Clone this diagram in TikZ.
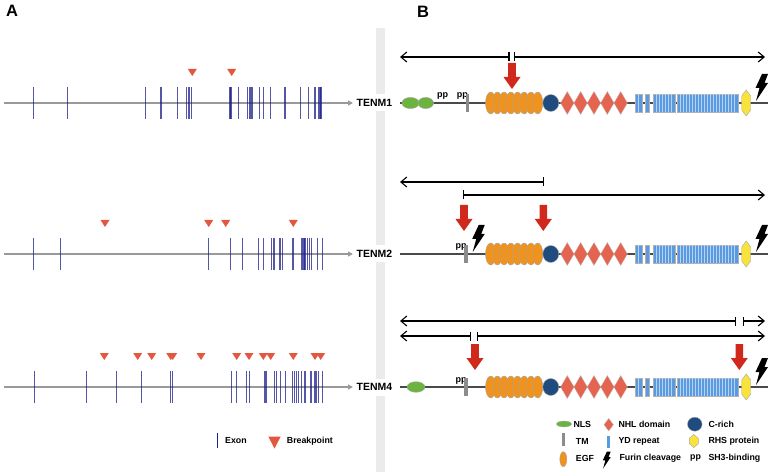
\documentclass[tikz,border=0pt]{standalone}
\usepackage{fontspec}
\setmainfont{Liberation Sans}
\usetikzlibrary{arrows.meta}
\definecolor{exon}{HTML}{1E1E8C}
\definecolor{brk}{HTML}{E4573F}
\definecolor{nls}{HTML}{6DB33F}
\definecolor{egf}{HTML}{F0921E}
\definecolor{crich}{HTML}{1F4B7F}
\definecolor{nhl}{HTML}{E46450}
\definecolor{yd}{HTML}{5A9AE0}
\definecolor{ydstripe}{HTML}{B8D4F4}
\definecolor{rhs}{HTML}{F7E33C}
\definecolor{redarrow}{HTML}{D0281A}
\definecolor{bb}{HTML}{4A4A4A}
\definecolor{sep}{HTML}{EBEBEB}
\begin{document}
\begin{tikzpicture}[x=1pt,y=-1pt,
  genearrow/.style={draw=black!40, line width=1.9pt, -{Triangle[length=5pt,width=5pt]}, shorten >=2pt},
  exonline/.style={draw=exon, line width=1.2pt, opacity=0.75},
  tenm/.style={font=\fontsize{10.5}{12}\selectfont\bfseries, fill=white, inner xsep=1.5pt, inner ysep=0pt, minimum height=17pt, anchor=west},
  lab/.style={font=\fontsize{8.8}{10}\selectfont\bfseries, inner sep=0pt, anchor=west},
  pplab/.style={font=\fontsize{9}{10}\selectfont\bfseries, inner sep=0pt, anchor=base west},
  panel/.style={font=\fontsize{16.5}{18}\selectfont\bfseries, inner sep=0pt},
  backbone/.style={draw=bb, line width=1.5pt},
  spanline/.style={draw=black, line width=1.1pt},
  bolt/.pic={\fill[black] (7,0) -- (13,0) -- (9.5,9) -- (13,9) -- (1,27) -- (4.5,14) -- (0.5,14) -- cycle;},
  tmbar/.style={fill=black!45},
  core/.pic={
    \foreach \i in {0,...,7}
      \filldraw[fill=egf, draw=black!35, line width=0.4pt] ({490.7+6.71*\i},0) ellipse [x radius=5.2, y radius=11];
    \filldraw[fill=crich, draw=black!35, line width=0.4pt] (550.8,0) ellipse [x radius=8, y radius=8.5];
    \foreach \i in {0,...,4}
      \filldraw[fill=nhl, draw=black!25, line width=0.3pt] ({567.3+13.35*\i-6.7},0) -- ({567.3+13.35*\i},-11.5) -- ({567.3+13.35*\i+6.7},0) -- ({567.3+13.35*\i},11.5) -- cycle;
    \foreach \a/\b in {635/641.7, 645/649.3, 653.3/675, 677.3/738.3}
      \filldraw[fill=yd, draw=black!30, line width=0.3pt] (\a,-9) rectangle (\b,9);
    \foreach \x in {638.4, 656.3, 659.3, 662.3, 665.3, 668.3, 671.3, 680.3, 683.3, 686.3, 689.3, 692.3, 695.3, 698.3, 701.3, 704.3, 707.3, 710.3, 713.3, 716.3, 719.3, 722.3, 725.3, 728.3, 731.3, 734.3}
      \draw[ydstripe, line width=0.5pt] (\x,-8.6) -- (\x,8.6);
    \filldraw[fill=rhs, draw=black!35, line width=0.4pt] (746.2,-13) -- (750.7,-7) -- (750.7,7) -- (746.2,13) -- (741.7,7) -- (741.7,-7) -- cycle;
    \pic at (755,-29) {bolt};
  }]
\useasboundingbox (0,0) rectangle (772,476);

% separator band
\fill[sep] (376,28) rectangle (385,472);

% panel letters
\node[panel] (pA) at (12,10.5) {A};
\node[panel] (pB) at (423,11.5) {B};

% ---------- Panel A ----------
\newcommand\exonrow[2]{\foreach \x in {#2} {\draw[exonline] (\x,#1-16) -- (\x,#1+16);}}
\newcommand\brkrow[2]{\foreach \x in {#2} {\fill[brk] (\x-4.5,#1-34) -- (\x+4.5,#1-34) -- (\x,#1-27) -- cycle;}}

% row 1
\node[tenm] (t1) at (355,103) {TENM1};
\coordinate (g1) at (4,103);
\draw[genearrow] (g1) -- (t1.west);
\exonrow{103}{33.7, 67.7, 145.3, 161, 177.3, 186.7, 189, 191.7, 230, 231, 238.7, 247.3, 250, 252, 259.7, 263.3, 270.7, 285, 300.7, 308.3, 315, 318.7, 320, 321}
\brkrow{103}{192.3, 231.7}

% row 2
\node[tenm] (t2) at (355,254) {TENM2};
\coordinate (g2) at (4,254);
\draw[genearrow] (g2) -- (t2.west);
\exonrow{254}{33.7, 60.3, 208.7, 230.7, 242.7, 258.7, 263.3, 271.7, 274, 280, 282.7, 293, 301.7, 302.8, 304, 305, 307.3, 309.3, 311.7, 317.7, 322.7}
\brkrow{254}{105, 208.7, 225.7, 293.3}

% row 3
\node[tenm] (t3) at (355,387) {TENM4};
\coordinate (g3) at (4,387);
\draw[genearrow] (g3) -- (t3.west);
\exonrow{387}{34.3, 86.7, 116.7, 141.7, 170.3, 172.3, 231.7, 236.7, 246.7, 249.3, 265, 266.7, 274.3, 276.7, 280.3, 285.7, 292.3, 294.3, 296.5, 298.7, 301.7, 305, 311, 315, 316.7, 318.3, 322.3}
\brkrow{387}{104.3, 137.7, 151.7, 170.7, 172.7, 201, 236.7, 249, 263.3, 270.7, 293.3, 315, 320.7}

% legend A
\draw[draw=exon, line width=1.4pt] (217.7,432.7) -- (217.7,448.3);
\node[lab] (lexon) at (225,441) {Exon};
\fill[brk] (268.3,436.5) -- (280.7,436.5) -- (274.5,448.5) -- cycle;
\node[lab] (lbrk) at (286.7,441) {Breakpoint};

% ---------- Panel B ----------
\newcommand\redarrowat[2]{\fill[redarrow] (#1-3.8,#2) -- (#1+3.8,#2) -- (#1+3.8,#2+14) -- (#1+8.5,#2+14) -- (#1,#2+26) -- (#1-8.5,#2+14) -- (#1-3.8,#2+14) -- cycle;}

% row 1
\coordinate (b1s) at (400,103);
\coordinate (b1e) at (768,103);
\draw[backbone] (b1s) -- (b1e);
\filldraw[fill=nls, draw=black!35, line width=0.4pt] (410.5,103) ellipse [x radius=8.6, y radius=5.6];
\filldraw[fill=nls, draw=black!35, line width=0.4pt] (425.8,103) ellipse [x radius=7.8, y radius=5.6];
\node[pplab] (pp1a) at (437,98) {pp};
\node[pplab] (pp1b) at (456.7,98) {pp};
\fill[tmbar] (465.6,94) rectangle (468.8,112);
\pic at (0,103) {core};
\coordinate (s1a) at (400,57);
\coordinate (s1b) at (509.5,57);
\coordinate (s1c) at (514,57);
\coordinate (s1d) at (765,57);
\draw[spanline, {Straight Barb[length=6pt,width=10pt]}-{Bar[width=9pt]}] (s1a) -- (s1b);
\draw[spanline, {Bar[width=9pt]}-{Straight Barb[length=6pt,width=10pt]}] (s1c) -- (s1d);
\redarrowat{512}{63}

% row 2
\coordinate (b2s) at (400,254);
\coordinate (b2e) at (768,254);
\draw[backbone] (b2s) -- (b2e);
\node[pplab] (pp2) at (455.5,249) {pp};
\fill[tmbar] (464.4,245) rectangle (467.6,263);
\pic at (471.7,225) {bolt};
\pic at (0,254) {core};
\coordinate (s2a) at (400,182);
\coordinate (s2b) at (544,182);
\coordinate (s2c) at (463.3,195);
\coordinate (s2d) at (765,195);
\draw[spanline, {Straight Barb[length=6pt,width=10pt]}-{Bar[width=9pt]}] (s2a) -- (s2b);
\draw[spanline, {Bar[width=9pt]}-{Straight Barb[length=6pt,width=10pt]}] (s2c) -- (s2d);
\redarrowat{464}{205}
\redarrowat{543.3}{205}

% row 3
\coordinate (b3s) at (400,387);
\coordinate (b3e) at (768,387);
\draw[backbone] (b3s) -- (b3e);
\filldraw[fill=nls, draw=black!35, line width=0.4pt] (416,387) ellipse [x radius=9, y radius=5.3];
\node[pplab] (pp3) at (455.5,382) {pp};
\fill[tmbar] (464.4,378) rectangle (467.6,396);
\pic at (0,387) {core};
\coordinate (s3a) at (400,321);
\coordinate (s3b) at (736,321);
\coordinate (s3c) at (743.3,321);
\coordinate (s3d) at (765,321);
\coordinate (s3e) at (400,336);
\coordinate (s3f) at (470.7,336);
\coordinate (s3g) at (477.3,336);
\coordinate (s3h) at (765,336);
\draw[spanline, {Straight Barb[length=6pt,width=10pt]}-{Bar[width=9pt]}] (s3a) -- (s3b);
\draw[spanline, {Bar[width=9pt]}-{Straight Barb[length=6pt,width=10pt]}] (s3c) -- (s3d);
\draw[spanline, {Straight Barb[length=6pt,width=10pt]}-{Bar[width=9pt]}] (s3e) -- (s3f);
\draw[spanline, {Bar[width=9pt]}-{Straight Barb[length=6pt,width=10pt]}] (s3g) -- (s3h);
\redarrowat{475}{344}
\redarrowat{739.3}{344}

% legend B
\filldraw[fill=nls, draw=black!35, line width=0.4pt] (564,424) ellipse [x radius=7.5, y radius=2.9];
\node[lab] (lnls) at (573.3,424) {NLS};
\fill[tmbar] (561.8,432.5) rectangle (564.6,445.5);
\node[lab] (ltm) at (575.7,441) {TM};
\filldraw[fill=egf, draw=black!35, line width=0.4pt] (563.3,459.2) ellipse [x radius=3.5, y radius=7.5];
\node[lab] (legf) at (575.7,458.5) {EGF};
\filldraw[fill=nhl, draw=black!25, line width=0.3pt] (604,424.7) -- (608.7,418.4) -- (613.4,424.7) -- (608.7,431) -- cycle;
\node[lab] (lnhl) at (618.3,424) {NHL domain};
\fill[yd] (607.3,435.7) rectangle (609.9,447.7);
\node[lab] (lyd) at (618.3,441) {YD repeat};
\pic[scale=0.63] at (602.5,451.5) {bolt};
\node[lab] (lfur) at (619.3,458.5) {Furin cleavage};
\filldraw[fill=crich, draw=black!35, line width=0.4pt] (694.8,424.2) ellipse [x radius=7.3, y radius=7];
\node[lab] (lcr) at (708.3,424) {C-rich};
\filldraw[fill=rhs, draw=black!35, line width=0.4pt] (693.8,434.4) -- (698.3,438.4) -- (698.3,443.6) -- (693.8,447.6) -- (689.3,443.6) -- (689.3,438.4) -- cycle;
\node[lab] (lrhs) at (708.3,441) {RHS protein};
\node[lab] (lpp) at (690,458.5) {pp};
\node[lab] (lsh3) at (708.3,458.5) {SH3-binding};
\end{tikzpicture}
\end{document}
